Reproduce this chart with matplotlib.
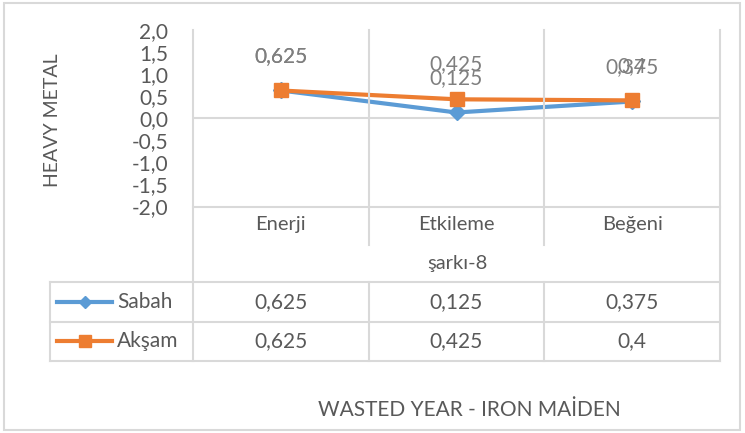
import matplotlib
matplotlib.use("Agg")
from matplotlib import pyplot as plt
from matplotlib.lines import Line2D
from matplotlib.patches import Rectangle
from matplotlib.transforms import blended_transform_factory

categories = ["Enerji", "Etkileme", "Beğeni"]
group_label = "şarkı-8"
sabah = [0.625, 0.125, 0.375]
aksam = [0.625, 0.425, 0.4]
series_names = ["Sabah", "Akşam"]
y_ticks = [-2.0, -1.5, -1.0, -0.5, 0.0, 0.5, 1.0, 1.5, 2.0]

W, H = 745, 433
BLUE = "#5B9BD5"
ORANGE = "#ED7D31"
GRID = "#D9D9D9"
TXT = "#595959"
FS = 14.5

plt.rcParams['font.family'] = ['Lato', 'DejaVu Sans']


def fy(y):
    return 1 - y / H


def fx(x):
    return x / W


fig = plt.figure(figsize=(W / 100, H / 100), dpi=100)

# plot area in pixels: x 193..720, y 30..206
ax = fig.add_axes([fx(193), fy(206), (720 - 193) / W, (206 - 30) / H])
ax.set_xlim(-0.5, len(categories) - 0.5)
ax.set_ylim(-2, 2)
for s in ax.spines.values():
    s.set_visible(False)
ax.set_xticks([])
ax.set_yticks(y_ticks)
ax.set_yticklabels([f"{v:.1f}".replace(".", ",") for v in y_ticks], color=TXT, fontsize=FS + 0.5)
ax.tick_params(axis="y", length=0, pad=18)
ax.axhline(0, color=GRID, lw=1.5, zorder=1)

x = list(range(len(categories)))
ax.plot(x, sabah, color=BLUE, lw=3, marker="D", ms=8, zorder=3)
ax.plot(x, aksam, color=ORANGE, lw=3, marker="s", ms=10, zorder=4)


def fmt(v):
    return f"{v:g}".replace(".", ",")


# data labels, Excel "above" position
for vals in (sabah, aksam):
    for xi, v in zip(x, vals):
        ax.annotate(fmt(v), (xi, v), xytext=(0, 25), textcoords="offset points",
                    ha="center", va="center", color="#7F7F7F", fontsize=FS + 0.5)

# data table
bt = blended_transform_factory(ax.transData, fig.transFigure)


def hline(x0, x1, y):
    fig.add_artist(Line2D([fx(x0), fx(x1)], [fy(y), fy(y)], color=GRID, lw=1.5,
                          transform=fig.transFigure))


def vline(xd, y0, y1):
    fig.add_artist(Line2D([xd, xd], [fy(y0), fy(y1)], color=GRID, lw=1.5, transform=bt))


hline(193, 720, 207)
hline(50, 720, 282)
hline(50, 720, 322)
hline(50, 720, 361)
vline(-0.5, 30, 361)
vline(len(categories) - 0.5, 30, 361)
for b in [0.5, 1.5]:
    vline(b, 30, 245)
    vline(b, 282, 361)
fig.add_artist(Line2D([fx(50), fx(50)], [fy(282), fy(361)], color=GRID, lw=1.5,
                      transform=fig.transFigure))

for xi, c in zip(x, categories):
    fig.text(xi, fy(224), c, transform=bt, ha="center", va="center", color=TXT, fontsize=FS)
fig.text(fx(457), fy(263), group_label, ha="center", va="center", color=TXT, fontsize=FS)

rows = [(series_names[0], sabah, BLUE, "D", 6, 302), (series_names[1], aksam, ORANGE, "s", 9, 341)]
for name, vals, col, mk, ms, yy in rows:
    fig.add_artist(Line2D([fx(57), fx(112)], [fy(yy), fy(yy)], color=col, lw=3,
                          transform=fig.transFigure))
    fig.add_artist(Line2D([fx(85)], [fy(yy)], color=col, marker=mk, ms=ms,
                          transform=fig.transFigure))
    fig.text(fx(117), fy(yy), name, ha="left", va="center", color=TXT, fontsize=FS + 0.5)
    for xi, v in zip(x, vals):
        fig.text(xi, fy(yy), fmt(v), transform=bt, ha="center", va="center", color=TXT, fontsize=FS + 0.5)

# axis titles
fig.text(fx(53), fy(120), "HEAVY METAL", rotation=90, ha="center", va="center", color=TXT, fontsize=FS - 0.5)
fig.text(fx(469), fy(410), "WASTED YEAR - IRON MAİDEN", ha="center", va="center", color=TXT, fontsize=FS + 0.5)

# chart border
fig.add_artist(Rectangle((fx(4), fy(430)), fx(740 - 4), (430 - 3) / H, fill=False,
                         edgecolor=GRID, lw=1.5, transform=fig.transFigure))

plt.savefig("out.png", dpi=100)
